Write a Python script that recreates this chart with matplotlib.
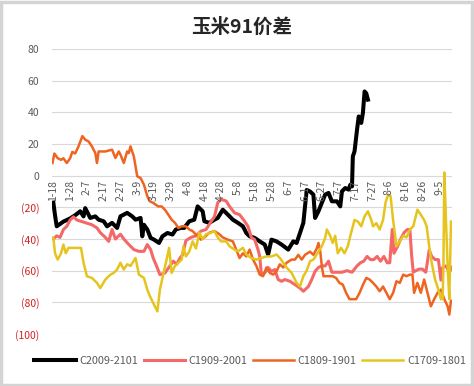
import matplotlib
matplotlib.use("Agg")
import matplotlib.pyplot as plt
from matplotlib.patches import Rectangle

plt.rcParams['font.family'] = ['Noto Sans CJK SC', 'DejaVu Sans']

title = "玉米91价差"
series_names = ["C2009-2101", "C1909-2001", "C1809-1901", "C1709-1801"]
date_labels = ["1-18", "1-28", "2-7", "2-17", "2-27", "3-9", "3-19", "3-29", "4-8", "4-18",
               "4-28", "5-8", "5-18", "5-28", "6-7", "6-17", "6-27", "7-7", "7-17", "7-27",
               "8-6", "8-16", "8-26", "9-5"]
y_ticks = [80, 60, 40, 20, 0, -20, -40, -60, -80, -100]

# x = days since 1-18
x_2009 = [0, 1, 2, 6, 10, 13, 16, 18, 19, 22, 25, 27, 30, 32, 35, 38, 40, 44, 47, 49, 52, 53, 54, 56,
          58, 60, 63, 65, 68, 71, 73, 76, 78, 81, 84, 86, 88, 89, 90, 93, 96, 98, 101, 104, 107, 110,
          113, 115, 117, 120, 123, 126, 128, 130, 133, 136, 140, 143, 145, 147, 149, 150, 151, 153,
          155, 156, 158, 160, 162, 164, 166, 169, 171, 172, 174, 176, 177, 178, 178.5, 179.5, 181,
          182, 183.5, 184.5, 185.5, 186.5, 187.5]
y_2009 = [-17, -25, -32, -29, -27, -25, -22.5, -25.7, -20.5, -26.7, -25.7, -27.8, -28.8, -32, -29.8,
          -33, -25.7, -23.5, -25.7, -27.8, -26.7, -38.3, -31, -34, -39.3, -40.4, -42.5, -38.3, -36.2,
          -37.2, -34, -33, -33, -28.8, -27.8, -19.4, -21.5, -22.5, -28.8, -29.8, -27.8, -26.7, -21.5,
          -24.6, -27.8, -29.8, -32, -36.2, -38.3, -39.3, -41.5, -43.5, -49.8, -40.4, -41.5, -43.5,
          -46.7, -41.5, -42.5, -36.2, -29.8, -19.4, -9, -10, -12, -26.7, -22.5, -17.2, -12, -10.9,
          -16.2, -16.2, -19.4, -9.9, -7.8, -8.8, -5.7, -6.8, 12.2, 15.3, 29, 37.4, 33.3, 39.6, 53.2,
          52, 48]

x_1909 = [0, 2, 4, 6, 8, 10, 12, 14, 17, 20, 23, 26, 28, 31, 33, 35, 37, 40, 42, 45, 48, 51, 54, 56,
          58, 59.5, 61.5, 63.5, 66.5, 69.5, 71.5, 73.5, 75.5, 77, 79, 82, 85, 88, 91, 94, 96, 98, 100,
          103, 105, 108, 111, 114, 116, 118, 120, 122, 123, 124, 126, 128, 130, 132, 134, 136, 138,
          141, 144, 147, 149, 152, 154, 156, 158, 160, 162, 164, 166, 169, 172, 175, 178, 181, 183,
          185, 187, 189, 191, 193, 195, 197, 199, 200.5, 202, 203, 205, 207, 209, 211, 212.5, 213.5,
          214.5, 216, 218, 220, 222, 224, 225.5, 227.5, 229.5, 231, 232, 234, 236, 237.5]
y_1909 = [-40, -38, -39, -34, -32, -28, -26, -28, -29, -30, -31, -33, -36, -39, -41.5, -34, -40, -37,
          -40, -43.5, -46.7, -47.8, -47.8, -43.5, -46.7, -52, -57, -62.5, -61.5, -57, -54, -56, -52,
          -50, -41, -39, -38, -35, -34, -29, -26, -17, -15, -16, -19.4, -23.5, -24.6, -28.8, -32, -39,
          -40.4, -46.7, -51, -62.5, -61.4, -58, -60.4, -59.3, -65.6, -66.7, -65.6, -66.7, -68.8, -71,
          -73, -70, -65.6, -60.4, -58, -57, -57, -54, -61, -61, -61, -60, -61, -57, -55, -54, -51, -53,
          -53, -51, -54, -51, -55, -55, -34, -49, -45, -40, -36, -34, -34, -50, -61, -60, -59, -59,
          -61, -47, -51, -53, -53, -66, -58, -57, -61, -58]

x_1809 = [-0.5, 0.6, 2.6, 4.6, 6, 8, 10, 11.3, 13, 15, 17.3, 19, 21, 23, 25, 26, 27, 31, 35, 37, 39,
          40, 42, 44, 45, 46, 48, 50, 52, 54, 56, 57.5, 59.5, 62.5, 64.5, 66.5, 68.5, 70.5, 72.5, 74.5,
          76.5, 79, 81, 83, 86, 88, 90, 93, 96, 99, 101, 104, 107, 109, 111, 113, 115, 117, 119, 121,
          123, 125, 127, 129, 131, 133, 135, 137, 139, 142, 144, 146, 148, 150, 153, 155, 157, 158,
          159, 160, 161, 163, 166.5, 168.5, 170.5, 172.5, 174.5, 176.5, 178.5, 180.5, 182.5, 184.5,
          186.5, 188.5, 190.5, 192.5, 194.5, 196.5, 198.5, 200.5, 202.5, 204.5, 206.5, 208.5, 210.5,
          212.5, 214, 215, 217, 219, 221, 223, 225, 227, 229, 231, 233, 235, 236, 237]
y_1809 = [8, 14, 11, 10, 11, 8, 11, 15, 14, 18.5, 25, 22.7, 21.6, 18.5, 14.3, 8, 15.3, 15.3, 16.4,
          11.2, 15.3, 13.3, 8, 15.3, 14.3, 18.5, 12, -0.4, -1.5, -5.7, -13, -16.2, -17.2, -19.4, -19.4,
          -21.5, -24.6, -27.8, -29.8, -33, -32, -32, -34, -35, -38.3, -40.4, -39, -36, -35, -37, -39,
          -40.4, -41.5, -46.7, -52, -49, -51, -46.7, -53, -57, -62.5, -63.5, -58, -61.4, -62.5, -60.4,
          -56, -58, -55, -53, -53, -50, -53, -50, -48, -50, -46, -42.5, -47, -57, -63.5, -63.5, -63.5,
          -64.6, -67.7, -68.8, -74, -78, -78, -78, -74, -69, -64.6, -65.6, -67.7, -70, -73, -70, -74,
          -78, -74, -66.7, -67.7, -62.5, -63.5, -62.5, -62.5, -74, -67.7, -74, -65.6, -74, -82.5, -78,
          -74, -72, -78, -82.5, -87.7, -79]

x_1709 = [0, 1, 2.6, 4.6, 6, 7.4, 9, 15, 16.5, 18, 20, 23, 26, 28, 31, 34, 36, 38, 40, 42, 44, 46,
          49, 51, 54, 56, 57.5, 59.5, 62, 63.5, 65.5, 67.5, 69, 70.5, 72.5, 74.5, 76.5, 77.5, 79, 81,
          83, 85, 87, 89, 91, 94, 96, 98, 100, 103, 105, 108, 110, 113, 115, 118, 121, 124, 127, 130,
          133, 135, 137, 139, 142, 145, 147, 149, 151, 153, 155, 158, 160, 162, 163, 165, 166.5, 168,
          169.5, 171.5, 173.5, 175.5, 177, 179.5, 181.5, 183.5, 185.5, 187.5, 189.5, 190.5, 192.5,
          194.5, 196.5, 198, 199.5, 201, 202.5, 204.5, 206.5, 208.5, 210.5, 212.5, 214.5, 217, 219,
          221, 222.5, 224, 225.5, 227.5, 229.5, 231, 232, 232.5, 233, 234, 235, 236, 237]
y_1709 = [-39, -49, -53, -49, -43.5, -49, -45.6, -45.6, -45.6, -55, -63.5, -64.6, -67.7, -71, -65.6,
          -62.5, -61.4, -59.3, -55, -59.3, -56, -57, -52, -62.5, -64.6, -72, -76, -80.4, -85.7, -72,
          -62.5, -53, -45.6, -61.4, -57, -55, -53, -44.6, -51, -48, -41.5, -46, -36, -40, -37, -36, -35,
          -39, -41.5, -41.5, -44.6, -46.7, -47.8, -45.6, -49.8, -52, -53, -52, -51, -51, -49.8, -52,
          -55, -58, -61.4, -67.7, -70, -63.5, -60, -54, -53, -48, -44.6, -39.3, -34, -38, -42.5, -38,
          -49, -45.6, -49, -44.6, -38, -28, -29, -32, -25.7, -22.5, -28, -32, -30, -34, -28, -17, -12,
          -13, -28, -44.6, -41.5, -38, -39, -34, -32, -21.5, -24.6, -28, -32, -44.6, -55, -65.6, -72,
          -78, -78, -57, 2, -28, -57, -78, -29]

fig = plt.figure(figsize=(4.74, 3.86), dpi=100)
ax = fig.add_axes([52 / 474, 1 - 334 / 386, 400 / 474, 285 / 386])

ax.plot(x_2009, y_2009, color="black", lw=2.9, label=series_names[0])
ax.plot(x_1909, y_1909, color="#F46868", lw=2.2, label=series_names[1])
ax.plot(x_1809, y_1809, color="#EE6420", lw=1.8, label=series_names[2])
ax.plot(x_1709, y_1709, color="#E6C41E", lw=1.8, label=series_names[3])

ax.set_xlim(-0.8, 237.6)
ax.set_ylim(-100, 80)
ax.set_yticks(y_ticks)
ax.set_yticklabels([str(v) if v >= 0 else "(%d)" % -v for v in y_ticks], fontsize=7.5)
for lab, v in zip(ax.get_yticklabels(), y_ticks):
    lab.set_color("#595959" if v >= 0 else "#D42020")
ax.tick_params(axis="y", length=0, pad=9)
ax.set_xticks([])
ax.grid(axis="y", color="#D9D9D9", lw=0.8)
ax.set_axisbelow(True)
for s in ax.spines.values():
    s.set_visible(False)

for i, lab in enumerate(date_labels):
    ax.annotate(lab, (10 * i, 0), xytext=(0, -3), textcoords="offset points",
                rotation=90, ha="center", va="top", fontsize=7.5, color="#595959")

fig.text(241.7 / 474, 1 - 27 / 386, title, ha="center", va="center",
         fontsize=14, fontweight="bold", color="#262626")

fig.legend(loc="center left", bbox_to_anchor=(29 / 474, 1 - 361 / 386), ncol=4, frameon=False,
           fontsize=7.8, handlelength=3.8, handletextpad=0.35, columnspacing=0.5, borderpad=0,
           labelcolor="#595959")

fig.patches.append(Rectangle((0.002, 0.003), 0.994, 0.992, transform=fig.transFigure,
                             fill=False, edgecolor="#D4D4D4", lw=2.5))

fig.savefig("out.png", dpi=100)
